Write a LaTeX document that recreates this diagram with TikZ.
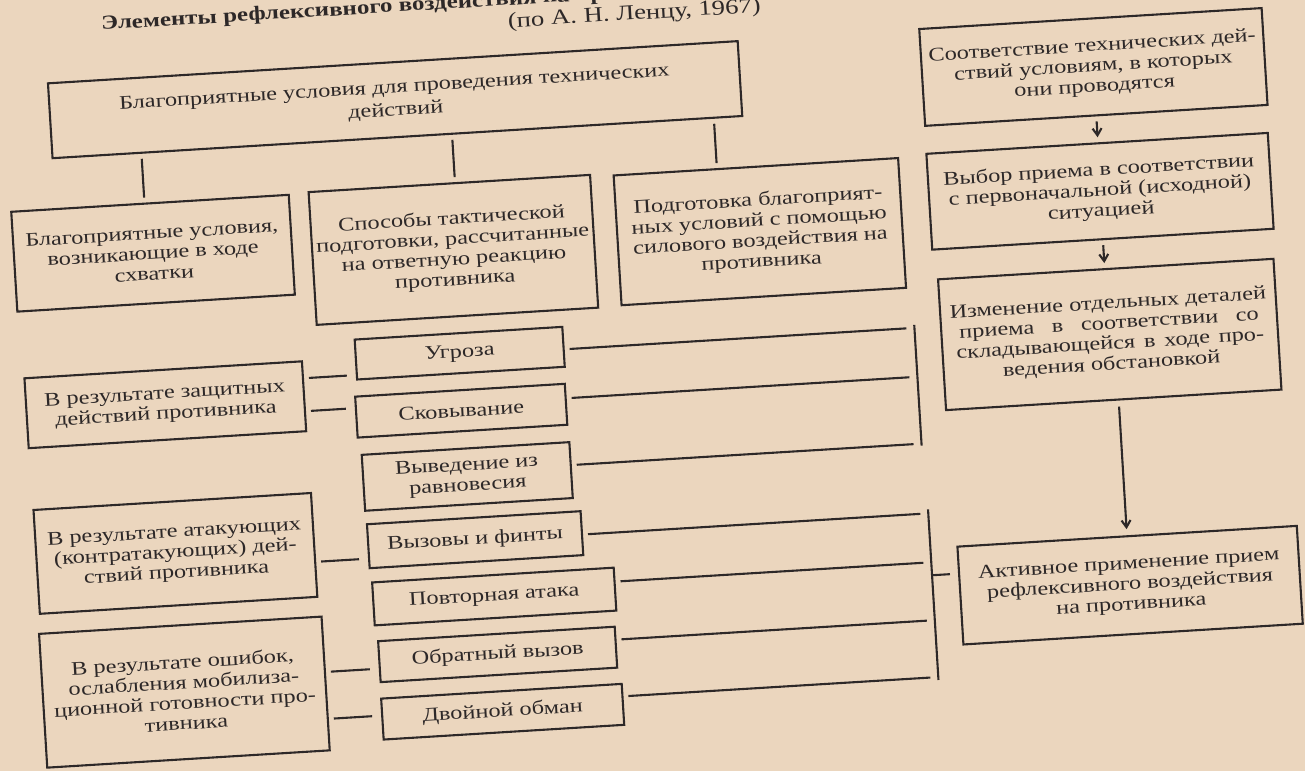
\documentclass[tikz,border=0pt]{standalone}
\usepackage{fontspec}
\setmainfont{Liberation Serif}[FakeStretch=1.26]
\usetikzlibrary{arrows.meta}
\definecolor{paper}{RGB}{235,214,190}
\definecolor{ink}{RGB}{45,40,40}
\newcommand\bodyf{\fontsize{9.65pt}{10.2pt}\selectfont}
\begin{document}
\begin{tikzpicture}[x=0.5pt,y=-0.5pt,
  bx/.style 2 args={draw=ink, line width=1.05pt, inner sep=1pt, align=center,
    text=ink, font=\bodyf, minimum width=#1, minimum height=#2},
  ln/.style={draw=ink, line width=1.05pt},
  conn/.style={ln, shorten <=2.5pt, shorten >=4pt},
  arr/.style={ln, -{Straight Barb[length=3.5pt,width=4.5pt]}, shorten <=2.5pt, shorten >=2.5pt}]
\fill[paper] (0,0) rectangle (1305,771);
\useasboundingbox (0,0) rectangle (1305,771);
\begin{scope}[rotate around={3.5:(652,385)}, transform shape]
% title
\node[anchor=base west, inner sep=0pt, text=ink,
  font={\fontsize{9.9pt}{10.2pt}\selectfont\bfseries}] (title) at (124,-3)
  {Элементы рефлексивного воздействия на противника};
\node[anchor=base, text=ink, font={\fontsize{10.6pt}{10.2pt}\selectfont}] (author) at (657,19.5)
  {(по А. Н. Ленцу, 1967)};
% top box and its three children
\node[bx={345.5pt}{37.5pt}, font={\fontsize{9.65pt}{11.5pt}\selectfont}] (T) at (413,84.5)
  {Благоприятные условия для проведения технических\\действий};
\node[bx={139pt}{50pt}] (B1) at (162,223)
  {Благоприятные условия,\\возникающие в ходе\\схватки};
\node[bx={141pt}{66.5pt}] (B2) at (462,238)
  {Способы тактической\\подготовки, рассчитанные\\на ответную реакцию\\противника};
\node[bx={142.5pt}{65pt}] (B3) at (769,238.5)
  {Подготовка благоприят-\\ных условий с помощью\\силового воздействия на\\противника};
\draw[ln, shorten <=2.5pt, shorten >=2.5pt] (T.south -| 156.5,0) -- (B1.north -| 156.5,0);
\draw[ln, shorten <=2.5pt, shorten >=2.5pt] (T.south -| 467.7,0) -- (B2.north -| 467.7,0);
\draw[ln, shorten <=2.5pt, shorten >=2.5pt] (T.south -| 730,0) -- (B3.north -| 730,0);
% right column
\node[bx={171.5pt}{48.5pt}] (R1) at (1112,94.5)
  {Соответствие технических дей-\\ствий условиям, в которых\\они проводятся};
\node[bx={171pt}{48pt}] (R2) at (1111,219)
  {Выбор приема в соответствии\\с первоначальной (исходной)\\ситуацией};
\node[bx={168pt}{65.5pt}] (R3) at (1112,362.5)
  {Изменение отдельных деталей\\\makebox[150pt][s]{приема в соответствии со}\\\makebox[154pt][s]{складывающейся в ходе про-}\\ведения обстановкой};
\node[bx={170pt}{49pt}] (R4) at (1117,614)
  {Активное применение прием\\рефлексивного воздействия\\на противника};
\draw[arr] (R1.south) -- (R1.south |- R2.north);
\draw[arr] (R2.south) -- (R2.south |- R3.north);
\draw[arr, shorten <=3pt, shorten >=3pt] (R3.south -| R4.north) -- (R4.north);
% left column
\node[bx={139pt}{35pt}] (L1) at (165,375)
  {В результате защитных\\действий противника};
\node[bx={139pt}{52pt}] (L2) at (166,524)
  {В результате атакующих\\(контратакующих) дей-\\ствий противника};
\node[bx={141.5pt}{67pt}] (L3) at (166.5,663)
  {В результате ошибок,\\ослабления мобилиза-\\ционной готовности про-\\тивника};
% middle column
\node[bx={104pt}{20pt}] (S1) at (462,341.5) {Угроза};
\node[bx={105pt}{20.5pt}] (S2) at (460,399) {Сковывание};
\node[bx={104pt}{28pt}] (S3) at (462,465) {Выведение из\\равновесия};
\node[bx={107pt}{22pt}] (S4) at (466,528.6) {Вызовы и финты};
\node[bx={121pt}{21.5pt}] (S5) at (481.6,586.5) {Повторная атака};
\node[bx={118.5pt}{20.5pt}] (S6) at (481.5,644.5) {Обратный вызов};
\node[bx={120.5pt}{20.5pt}] (S7) at (483,702) {Двойной обман};
% short links left -> middle
\draw[ln, shorten <=2.5pt, shorten >=4.5pt] (L1.east |- 0,357) -- (S1.west |- 0,357);
\draw[ln, shorten <=2.5pt, shorten >=4.5pt] (L1.east |- 0,390) -- (S2.west |- 0,390);
\draw[ln, shorten <=2.5pt, shorten >=4.5pt] (L2.east |- 0,541) -- (S4.west |- 0,541);
\draw[ln, shorten <=2.5pt, shorten >=4.5pt] (L3.east |- 0,651.5) -- (S6.west |- 0,651.5);
\draw[ln, shorten <=2.5pt, shorten >=4.5pt] (L3.east |- 0,698.5) -- (S7.west |- 0,698.5);
% collecting bars
\coordinate (ubt) at (917.5,341);
\coordinate (ubb) at (917.5,462);
\coordinate (lbt) at (920,526);
\coordinate (lbb) at (920,697);
\draw[ln] (ubt) -- (ubb);
\draw[ln] (lbt) -- (lbb);
\draw[conn] (S1.east |- 0,344) -- (ubt |- 0,344);
\draw[conn] (S2.east |- 0,393) -- (ubt |- 0,393);
\draw[conn] (S3.east |- 0,460) -- (ubt |- 0,460);
\draw[conn] (S4.east |- 0,530) -- (lbt |- 0,530);
\draw[conn] (S5.east |- 0,579) -- (lbt |- 0,579);
\draw[conn] (S6.east |- 0,637) -- (lbt |- 0,637);
\draw[conn] (S7.east |- 0,694) -- (lbt |- 0,694);
\draw[ln, shorten >=4pt] (lbt |- 0,592) -- (R4.west |- 0,592);
\end{scope}
\end{tikzpicture}
\end{document}
